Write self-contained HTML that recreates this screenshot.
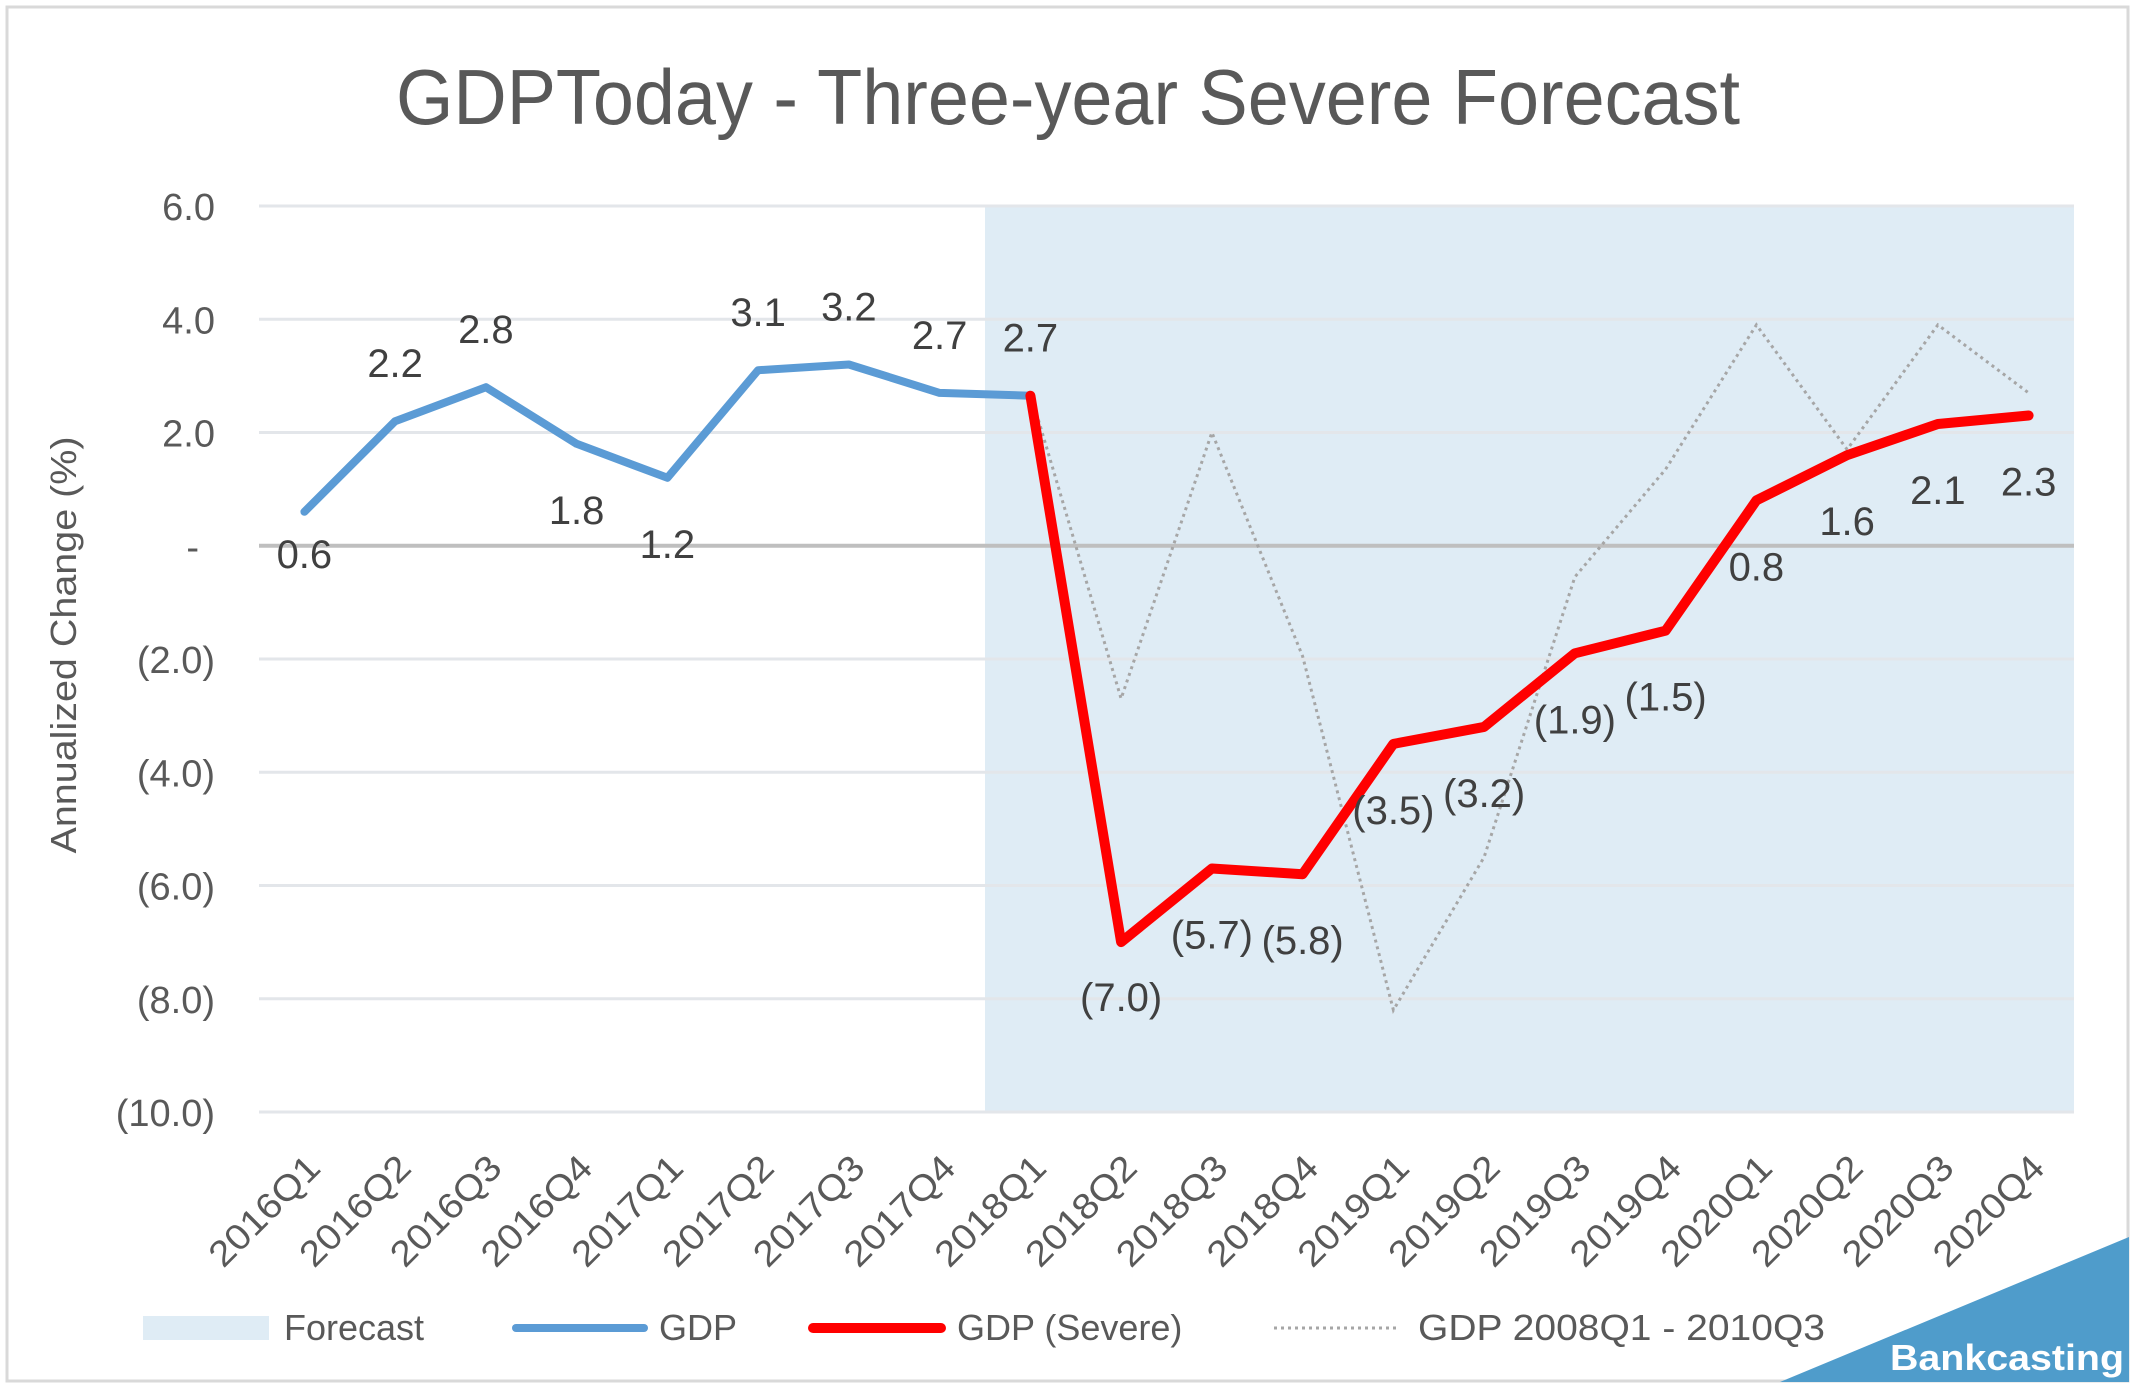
<!DOCTYPE html>
<html><head><meta charset="utf-8"><style>
html,body{margin:0;padding:0;background:#fff}
svg{display:block}
text{font-family:"Liberation Sans","DejaVu Sans",sans-serif;fill:#595959}
</style></head><body>
<svg id="chart" width="2136" height="1386" viewBox="0 0 2136 1386" xmlns="http://www.w3.org/2000/svg">
<rect x="7" y="7" width="2121" height="1374" fill="#fff" stroke="#d9d9d9" stroke-width="3"/>
<text x="1068" y="124" font-size="78" text-anchor="middle" textLength="1344" lengthAdjust="spacingAndGlyphs">GDPToday - Three-year Severe Forecast</text>
<text transform="translate(76,645) rotate(-90)" font-size="36" text-anchor="middle" textLength="417" lengthAdjust="spacingAndGlyphs">Annualized Change (%)</text>
<g id="plot"></g>
<g id="legend">
<rect x="143" y="1316" width="126" height="24" fill="#dfecf5"/>
<text x="284" y="1340" font-size="36">Forecast</text>
<line x1="516" y1="1328" x2="644" y2="1328" stroke="#5b9bd5" stroke-width="8" stroke-linecap="round"/>
<text x="659" y="1340" font-size="36">GDP</text>
<line x1="813" y1="1328" x2="941" y2="1328" stroke="#ff0000" stroke-width="10" stroke-linecap="round"/>
<text x="957" y="1340" font-size="36">GDP (Severe)</text>
<line x1="1274" y1="1328" x2="1398" y2="1328" stroke="#a6a6a6" stroke-width="3" stroke-dasharray="3,4"/>
<text x="1418" y="1340" font-size="36" textLength="407" lengthAdjust="spacingAndGlyphs">GDP 2008Q1 - 2010Q3</text>
</g>
<polygon points="1780,1382 2129,1237 2129,1382" fill="#4f9ccb"/>
<text x="1890" y="1370" font-size="36" font-weight="bold" style="fill:#fff" textLength="234" lengthAdjust="spacingAndGlyphs">Bankcasting</text>
</svg>
<script>
const categories = ["2016Q1","2016Q2","2016Q3","2016Q4","2017Q1","2017Q2","2017Q3","2017Q4","2018Q1","2018Q2","2018Q3","2018Q4","2019Q1","2019Q2","2019Q3","2019Q4","2020Q1","2020Q2","2020Q3","2020Q4"];
const gdpValues = [0.6,2.2,2.8,1.8,1.2,3.1,3.2,2.7,2.65];
const gdpLabels = ["0.6","2.2","2.8","1.8","1.2","3.1","3.2","2.7",""];
const gdpLabelPos = ["n","a","a","b","b","a","a","a",""];
const severeStart = 8;
const severeValues = [2.65,-7.0,-5.7,-5.8,-3.5,-3.2,-1.9,-1.5,0.8,1.6,2.15,2.3];
const severeLabels = ["2.7","(7.0)","(5.7)","(5.8)","(3.5)","(3.2)","(1.9)","(1.5)","0.8","1.6","2.1","2.3"];
const severeLabelPos = ["a","c","b","b","b","b","b","b","b","b","b","b"];
const hist2008Values = [2.7,-2.7,2.0,-1.95,-8.2,-5.5,-0.55,1.35,3.9,1.7,3.9,2.7];
const yTicks = [6,4,2,0,-2,-4,-6,-8,-10];
const yTickLabels = ["6.0","4.0","2.0","-","(2.0)","(4.0)","(6.0)","(8.0)","(10.0)"];
const forecastStartIndex = 8;

const NS="http://www.w3.org/2000/svg";
const L=259,R=2074,T=206,B=1112,yMax=6,yMin=-10;
const bw=(R-L)/categories.length;
function xPos(i){return L+(i+0.5)*bw;}
function yPos(v){return T+(yMax-v)/(yMax-yMin)*(B-T);}
const plot=document.getElementById('plot');
function mk(tag,attrs){const e=document.createElementNS(NS,tag);for(const k in attrs)e.setAttribute(k,attrs[k]);plot.appendChild(e);return e;}

let el=mk('rect',{x:L+forecastStartIndex*bw,y:yPos(yMax),width:R-(L+forecastStartIndex*bw),height:yPos(yMin)-yPos(yMax),fill:'#dfecf5'});



yTicks.forEach((t,i)=>{
  if(t!==0){
    const g=mk('line',{x1:L,x2:R,y1:yPos(t),y2:yPos(t),stroke:'#e3e6ea','stroke-width':3});
    
    
  }
  const tx=mk('text',{x:t===0?215-16:215,y:yPos(t)+14,'font-size':38,'text-anchor':'end'});
  tx.textContent=yTickLabels[i];
  
  
});
el=mk('line',{x1:L,x2:R,y1:yPos(0),y2:yPos(0),stroke:'#bfbfbf','stroke-width':4});



categories.forEach((c,i)=>{
  const x=xPos(i)+18,y=1170;
  const tx=mk('text',{x:x,y:y,'font-size':36,'text-anchor':'end',transform:`rotate(-45 ${x} ${y})`,textLength:140,lengthAdjust:'spacingAndGlyphs'});
  tx.textContent=c;
  
  
});

function pts(vals,start){return vals.map((v,i)=>xPos(i+start).toFixed(1)+','+yPos(v).toFixed(1)).join(' ');}
el=mk('polyline',{points:pts(hist2008Values,severeStart),fill:'none',stroke:'#a6a6a6','stroke-width':3,'stroke-dasharray':'3,4'});


el=mk('polyline',{points:pts(gdpValues,0),fill:'none',stroke:'#5b9bd5','stroke-width':8,'stroke-linejoin':'round','stroke-linecap':'round'});


el=mk('polyline',{points:pts(severeValues,severeStart),fill:'none',stroke:'#ff0000','stroke-width':10,'stroke-linejoin':'round','stroke-linecap':'round'});



function off(p){return p==='a'?-58:(p==='n'?42:(p==='c'?55:66));}
gdpValues.forEach((v,i)=>{
  if(!gdpLabels[i])return;
  const tx=mk('text',{x:xPos(i),y:yPos(v)+off(gdpLabelPos[i])+14,'font-size':40,'text-anchor':'middle',style:'fill:#404040'});
  tx.textContent=gdpLabels[i];
  
  
});
severeValues.forEach((v,i)=>{
  const tx=mk('text',{x:xPos(i+severeStart),y:yPos(v)+off(severeLabelPos[i])+14,'font-size':40,'text-anchor':'middle',style:'fill:#404040'});
  tx.textContent=severeLabels[i];
  
  
});
</script>
</body></html>
